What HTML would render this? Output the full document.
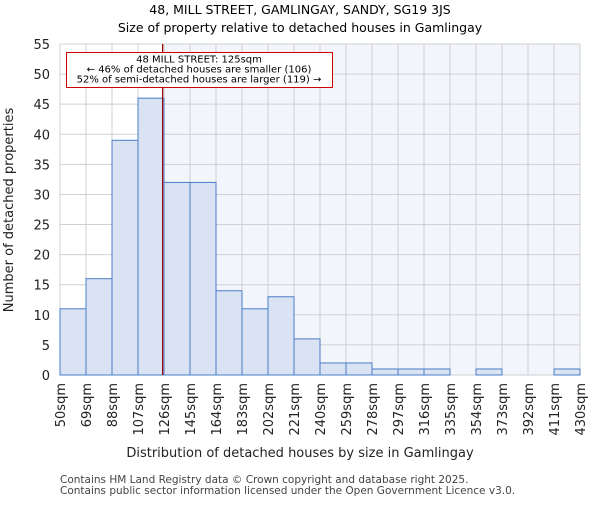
<!DOCTYPE html>
<html><head><meta charset="utf-8"><style>body{margin:0;background:#fff}svg{font-family:"DejaVu Sans","Liberation Sans",sans-serif}</style></head>
<body>
<svg width="600" height="500" viewBox="0 0 600 500">
<g id="g"></g>
</svg>
<script>
const categories=["50sqm","69sqm","88sqm","107sqm","126sqm","145sqm","164sqm","183sqm","202sqm","221sqm","240sqm","259sqm","278sqm","297sqm","316sqm","335sqm","354sqm","373sqm","392sqm","411sqm","430sqm"];
const counts=[11,16,39,46,32,32,14,11,13,6,2,2,1,1,1,0,1,0,0,1];
const yTicks=[0,5,10,15,20,25,30,35,40,45,50,55];
const binStart=50, binWidth=19, propertySize=125;
const L=60,R=580,T=44,B=375,yMax=55;
const ns="http://www.w3.org/2000/svg";
const g=document.getElementById('g');
const xs=v=>L+(v-binStart)/(binWidth*counts.length)*(R-L);
const ys=v=>B-v/yMax*(B-T);
function el(t,a,txt){const e=document.createElementNS(ns,t);for(const k in a)e.setAttribute(k,a[k]);if(txt!==undefined)e.textContent=txt;g.appendChild(e);return e;}
let e;
const px=xs(propertySize);
e=el('rect',{x:px,y:T,width:R-px,height:B-T,fill:'#f2f5fc'});


for(let i=0;i<=counts.length;i++){const x=xs(binStart+i*binWidth);
e=el('line',{x1:x,x2:x,y1:T,y2:B,stroke:'#d0d0d0','stroke-width':1});

}
yTicks.forEach(v=>{const y=ys(v);
e=el('line',{x1:L,x2:R,y1:y,y2:y,stroke:'#d0d0d0','stroke-width':1});


e=el('text',{x:L-10,y:y+5,'text-anchor':'end','font-size':13,fill:'#222'},v);

});
counts.forEach((c,i)=>{if(c<=0)return;const x0=xs(binStart+i*binWidth),x1=xs(binStart+(i+1)*binWidth);
e=el('rect',{x:x0,y:ys(c),width:x1-x0,height:B-ys(c),fill:'#dae3f3',stroke:'#4a7cc9','stroke-width':1});

});
categories.forEach((c,i)=>{const x=xs(binStart+i*binWidth);
e=el('text',{transform:`translate(${x+5},${B+8}) rotate(-90)`,'text-anchor':'end','font-size':13,fill:'#222'},c);

});
e=el('line',{x1:px,x2:px,y1:T,y2:B,stroke:'#990000','stroke-width':1.2});


e=el('rect',{x:66.5,y:52.5,width:266,height:35,fill:'#fff',stroke:'#cc0000','stroke-width':1});


["48 MILL STREET: 125sqm","← 46% of detached houses are smaller (106)","52% of semi-detached houses are larger (119) →"].forEach((t,i)=>{
e=el('text',{x:199,y:62.5+i*10,'text-anchor':'middle','font-size':10,fill:'#000'},t);

});
e=el('text',{x:300,y:14,'text-anchor':'middle','font-size':12.5,fill:'#000'},"48, MILL STREET, GAMLINGAY, SANDY, SG19 3JS");


e=el('text',{x:300,y:32,'text-anchor':'middle','font-size':12.5,fill:'#000'},"Size of property relative to detached houses in Gamlingay");


e=el('text',{x:300,y:457,'text-anchor':'middle','font-size':13,fill:'#222'},"Distribution of detached houses by size in Gamlingay");


e=el('text',{transform:'translate(13,210) rotate(-90)','text-anchor':'middle','font-size':13,fill:'#222'},"Number of detached properties");


e=el('text',{x:60,y:483,'font-size':10.5,fill:'#444'},"Contains HM Land Registry data © Crown copyright and database right 2025.");


e=el('text',{x:60,y:494,'font-size':10.5,fill:'#444'},"Contains public sector information licensed under the Open Government Licence v3.0.");


</script>
</body></html>
